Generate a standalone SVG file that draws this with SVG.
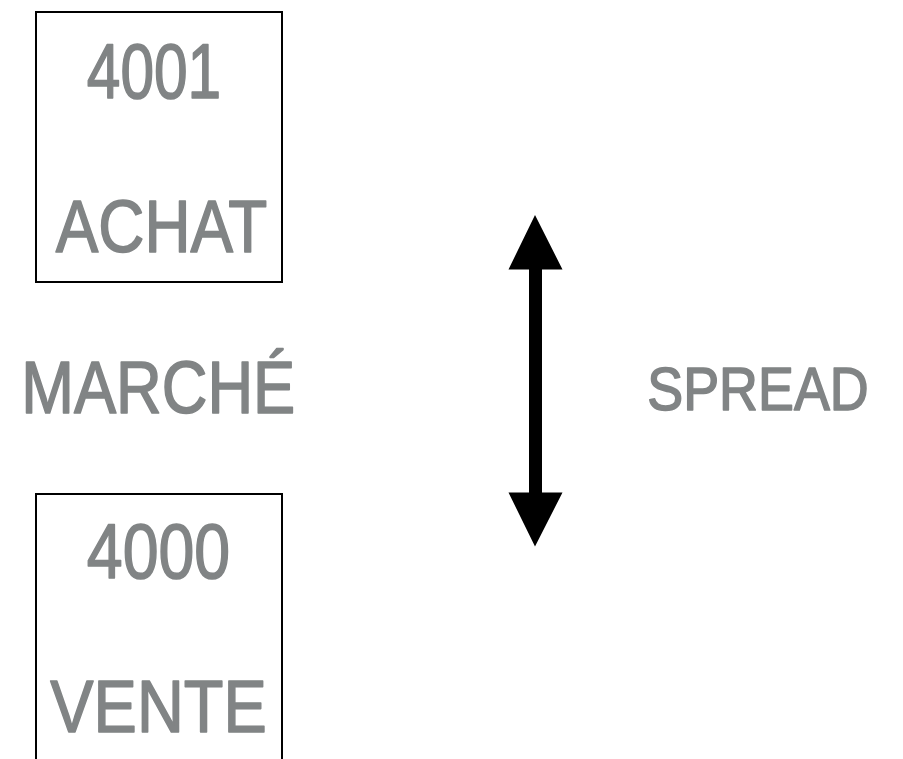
<svg xmlns="http://www.w3.org/2000/svg" width="903" height="759" viewBox="0 0 903 759">
<style>
.box{fill:#fff;stroke:#000;stroke-width:2}
.t{font-family:"Liberation Sans",Arial,sans-serif;fill:#818485;stroke:#818485;stroke-width:1.6;stroke-linejoin:round}
</style>
<rect width="903" height="759" fill="#fff"/>
<g id="achat">
<rect class="box" x="36" y="12" width="246" height="270"/>
<text class="t" x="86.8" y="97.8" font-size="78" textLength="134.4" lengthAdjust="spacingAndGlyphs">4001</text>
<text class="t" x="55.8" y="252" font-size="75" textLength="211.4" lengthAdjust="spacingAndGlyphs">ACHAT</text>
</g>
<g id="vente">
<rect class="box" x="36" y="494" width="246" height="275"/>
<text class="t" x="86.8" y="577.8" font-size="78" textLength="143.4" lengthAdjust="spacingAndGlyphs">4000</text>
<text class="t" x="50.3" y="731.6" font-size="75" textLength="216.4" lengthAdjust="spacingAndGlyphs">VENTE</text>
</g>
<g id="marche">
<text class="t" x="21.3" y="413.3" font-size="73.5" textLength="273.9" lengthAdjust="spacingAndGlyphs">MARCHÉ</text>
</g>
<g id="spread">
<text class="t" x="647.3" y="410" font-size="60.5" textLength="221.4" lengthAdjust="spacingAndGlyphs">SPREAD</text>
</g>
<g id="connectors">
<path d="M535,215 L562.5,269.5 L542,269.5 L542,492.5 L562.5,492.5 L535,546.5 L508.5,492.5 L529,492.5 L529,269.5 L508.5,269.5 Z" fill="#000"/>
</g>
</svg>
